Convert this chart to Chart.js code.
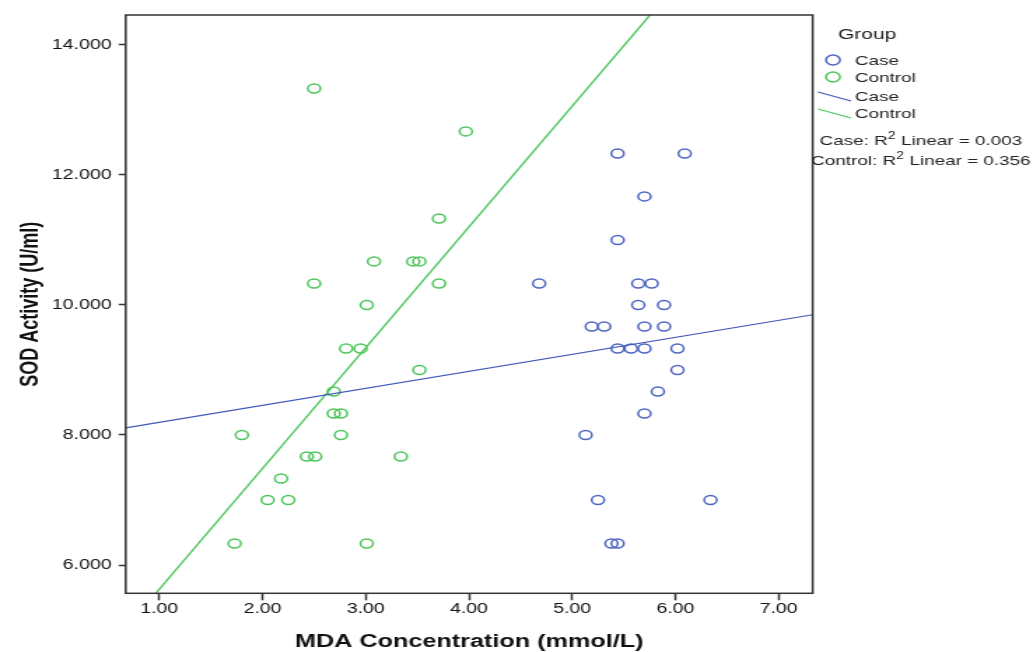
<!DOCTYPE html>
<html>
<head>
<meta charset="utf-8">
<title>SOD Activity vs MDA Concentration</title>
<script src="https://cdn.jsdelivr.net/npm/chart.js@4.4.1/dist/chart.umd.min.js"></script>
<style>
  html, body { margin: 0; padding: 0; background: #fff; overflow: hidden; }
  #chart { display: block; width: 1033px !important; height: 652px !important; }
</style>
</head>
<body>
<canvas id="chart" width="738" height="652" style="width:1033px;height:652px"></canvas>
<script>
// Data
const groups = ["Case", "Control"];
const r2Values = ["0.003", "0.356"];

const caseX = [5.44, 6.09, 5.70, 5.44, 4.68, 5.64, 5.77, 5.64, 5.89, 5.19, 5.31, 5.70, 5.89,
  5.44, 5.57, 5.70, 6.02, 6.02, 5.83, 5.70, 5.13, 5.25, 6.34, 5.38, 5.44];
const caseY = [12.33, 12.33, 11.67, 11.0, 10.33, 10.33, 10.33, 10.0, 10.0, 9.67, 9.67, 9.67, 9.67,
  9.33, 9.33, 9.33, 9.33, 9.0, 8.67, 8.33, 8.0, 7.0, 7.0, 6.33, 6.33];

const controlX = [2.50, 3.97, 3.71, 3.08, 3.46, 3.52, 2.50, 3.71, 3.01, 2.81, 2.95, 3.52, 2.69,
  2.69, 2.76, 1.80, 2.76, 2.43, 2.51, 3.34, 2.18, 2.05, 2.25, 1.73, 3.01];
const controlY = [13.33, 12.67, 11.33, 10.67, 10.67, 10.67, 10.33, 10.33, 10.0, 9.33, 9.33, 9.0, 8.67,
  8.33, 8.33, 8.0, 8.0, 7.67, 7.67, 7.67, 7.33, 7.0, 7.0, 6.33, 6.33];

// Fit line end points (as drawn in the reference)
const caseFitX = [0.675, 7.33];
const caseFitY = [8.11, 9.85];
const controlFitX = [0.958, 5.76];
const controlFitY = [5.55, 14.47];

const xTicks = [1, 2, 3, 4, 5, 6, 7];
const yTicks = [6, 8, 10, 12, 14];

// The original image is stretched horizontally, so the canvas is drawn narrow and scaled by CSS
const SX = 1033 / 738;
const cx = (pageX) => pageX / SX;

const BLUE = "#4e65c0";
const BLUE_LINE = "#4257b8";
const GREEN = "#4cc65a";
const FONT = '"Liberation Sans", Arial, sans-serif';

const toPoints = (xs, ys) => xs.map((x, i) => ({ x: x, y: ys[i] }));

// Draws the plot frame and the SPSS style legend on the right
const framePlugin = {
  id: "frameAndLegend",
  afterDraw(chart) {
    const ctx = chart.ctx;
    const a = chart.chartArea;
    ctx.save();
    ctx.strokeStyle = "#333";
    ctx.lineWidth = 1.5;
    ctx.strokeRect(a.left, a.top, a.right - a.left, a.bottom - a.top);

    ctx.fillStyle = "#222";
    ctx.textBaseline = "middle";
    ctx.textAlign = "left";
    ctx.font = "15px " + FONT;
    ctx.fillText("Group", cx(838), 35);

    // point markers
    ctx.font = "13.5px " + FONT;
    [BLUE, GREEN].forEach((col, i) => {
      const y = 60 + i * 17;
      ctx.beginPath();
      ctx.strokeStyle = col;
      ctx.lineWidth = 1.5;
      ctx.arc(cx(833), y, 5, 0, Math.PI * 2);
      ctx.stroke();
      ctx.fillText(groups[i], cx(855), y + 1);
    });

    // line markers
    [BLUE_LINE, GREEN].forEach((col, i) => {
      const y = 92 + i * 17;
      ctx.beginPath();
      ctx.strokeStyle = col;
      ctx.lineWidth = 1.2;
      ctx.moveTo(cx(818), y);
      ctx.lineTo(cx(851), y + 9);
      ctx.stroke();
      ctx.fillText(groups[i], cx(855), y + 5);
    });

    // R squared notes
    groups.forEach((g, i) => {
      const y = 141 + i * 20;
      const parts = [
        { t: g + ": R", f: "13.5px " + FONT, dy: 0 },
        { t: "2", f: "10px " + FONT, dy: -5 },
        { t: " Linear = " + r2Values[i], f: "13.5px " + FONT, dy: 0 }
      ];
      let w = 0;
      parts.forEach((p) => { ctx.font = p.f; w += ctx.measureText(p.t).width; });
      let x = cx(921) - w / 2;
      parts.forEach((p) => {
        ctx.font = p.f;
        ctx.fillText(p.t, x, y + p.dy);
        x += ctx.measureText(p.t).width;
      });
    });
    ctx.restore();
  }
};

const ctx = document.getElementById("chart").getContext("2d");
new Chart(ctx, {
  type: "scatter",
  data: {
    datasets: [
      {
        label: "Case fit",
        type: "line",
        data: toPoints(caseFitX, caseFitY),
        borderColor: BLUE_LINE,
        borderWidth: 1.1,
        pointRadius: 0,
        fill: false
      },
      {
        label: "Control fit",
        type: "line",
        data: toPoints(controlFitX, controlFitY),
        borderColor: GREEN,
        borderWidth: 1.4,
        pointRadius: 0,
        fill: false
      },
      {
        label: groups[0],
        data: toPoints(caseX, caseY),
        pointStyle: "circle",
        pointRadius: 4.5,
        pointBorderWidth: 1.5,
        borderColor: BLUE,
        backgroundColor: "rgba(0,0,0,0)"
      },
      {
        label: groups[1],
        data: toPoints(controlX, controlY),
        pointStyle: "circle",
        pointRadius: 4.5,
        pointBorderWidth: 1.5,
        borderColor: GREEN,
        backgroundColor: "rgba(0,0,0,0)"
      }
    ]
  },
  options: {
    responsive: false,
    animation: false,
    devicePixelRatio: 1,
    layout: { padding: { top: 15, right: 738 - cx(812.7), bottom: 0, left: 0 } },
    plugins: {
      legend: { display: false },
      tooltip: { enabled: false }
    },
    scales: {
      x: {
        type: "linear",
        min: 0.675,
        max: 7.33,
        afterBuildTicks: (scale) => { scale.ticks = xTicks.map((v) => ({ value: v })); },
        afterFit: (scale) => { scale.height = 652 - 593.3; },
        grid: { drawOnChartArea: false, drawTicks: true, tickLength: 7, tickColor: "#333", tickWidth: 1.5 },
        border: { display: false },
        ticks: {
          padding: 0,
          color: "#111",
          font: { family: FONT, size: 14 },
          maxRotation: 0,
          callback: (v) => Number(v).toFixed(2)
        },
        title: {
          display: true,
          text: "MDA Concentration (mmol/L)",
          color: "#111",
          font: { family: FONT, size: 18, weight: "bold" },
          padding: { top: 0, bottom: -1 }
        }
      },
      y: {
        type: "linear",
        min: 5.565,
        max: 14.46,
        afterBuildTicks: (scale) => { scale.ticks = yTicks.map((v) => ({ value: v })); },
        afterFit: (scale) => { scale.width = cx(125.7); },
        grid: { drawOnChartArea: false, drawTicks: true, tickLength: 5, tickColor: "#333", tickWidth: 1.5 },
        border: { display: false },
        ticks: {
          padding: 5,
          color: "#111",
          font: { family: FONT, size: 14 },
          callback: (v) => Number(v).toFixed(3)
        },
        title: {
          display: true,
          text: "SOD Activity (U/ml)",
          color: "#111",
          font: { family: FONT, size: 18, weight: "bold" },
          padding: { top: 11, bottom: 0 }
        }
      }
    }
  },
  plugins: [framePlugin]
});
</script>
</body>
</html>
